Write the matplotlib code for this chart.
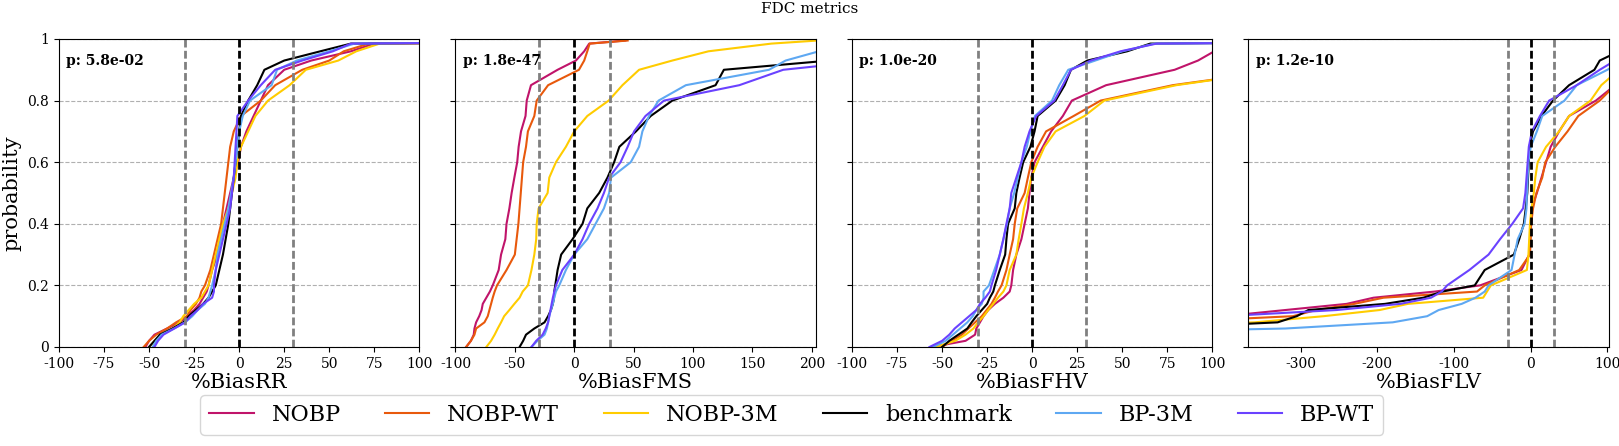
import numpy as np
import matplotlib
matplotlib.use('Agg')
import matplotlib.pyplot as plt

plt.rcParams['font.family'] = 'DejaVu Serif'
plt.rcParams['axes.unicode_minus'] = False

# cumulative probability levels (shared by every curve)
probs = [0, 0.02, 0.04, 0.06, 0.08, 0.10, 0.12, 0.14, 0.16, 0.18, 0.20,
         0.25, 0.30, 0.35, 0.40, 0.45, 0.50, 0.55, 0.60, 0.65, 0.70,
         0.75, 0.80, 0.85, 0.90, 0.93, 0.96, 0.985, 0.995]

models = ['NOBP', 'NOBP-WT', 'NOBP-3M', 'benchmark', 'BP-3M', 'BP-WT']
colors = ['#C0146A', '#E8590C', '#FFCC00', '#000000', '#5EA8F2', '#6A42FF']

# %BiasRR
rr_nobp = [-52, -50, -47, -40, -33, -29, -25, -22, -20, -18, -17, -15, -12, -11, -9, -7,
           -5, -3, -0.5, 1, 4, 8, 12, 16, 25, 40, 62, 75, 300]
rr_nobp_wt = [-53, -50, -46, -40, -35, -29, -27, -24, -22, -21, -19, -16, -14, -12, -10, -9,
              -8, -7, -6, -5, -3, 1, 12, 20, 35, 50, 58, 72, 300]
rr_nobp_3m = [-50, -47, -43, -37, -33, -31, -28, -25, -21, -19, -17, -15, -13, -11, -9, -6,
              -4, -2, -1, 1, 5, 9, 16, 28, 37, 55, 65, 78, 300]
rr_bench = [-50, -47, -44, -37, -31, -28, -24, -20, -17, -15, -13, -11, -9, -7.5, -6, -5,
            -4, -3, -2, -1, 0, 1, 5, 10, 14, 25, 45, 62, 300]
rr_bp_3m = [-48, -46, -43, -36, -30, -26, -23, -19, -17, -16, -15, -13, -12, -10, -8, -6,
            -4.5, -3, -2, -1, 0, 2, 6, 18, 21, 32, 50, 64, 300]
rr_bp_wt = [-47, -45, -42, -36, -30, -27, -23, -20, -15, -14, -14, -13, -11, -9, -7, -5,
            -4, -3, -2.5, -2, -1.5, -1, 5, 12, 20, 35, 52, 62, 300]

# %BiasFMS
fms_nobp = [-91, -87, -84.6, -84, -82.6, -80, -78, -77, -74, -71, -68.6, -63.6, -61.6, -58,
            -57, -54.6, -52.7, -50.4, -48, -46.8, -44.8, -41, -40, -36.4, -14, 1.4, 8.4, 12.6, 43]
fms_nobp_wt = [-91, -87, -84, -82.6, -75.6, -72.8, -71.4, -70, -68.6, -67, -65, -57, -50, -48.5,
               -47, -46, -45, -44, -43, -40.6, -39, -33.6, -31.6, -22, 4, 8.4, 11, 13, 45]
fms_nobp_3m = [-74, -70, -67, -64.4, -61.6, -59, -54.6, -50.4, -46, -43.4, -39, -36, -33.6, -32,
               -31.6, -30, -22.4, -21, -15.4, -7, 0, 11, 29, 40.6, 54.6, 82.6, 113, 166, 205]
fms_bench = [-46, -43, -40.6, -33.6, -25, -22, -19.6, -18, -17, -16.8, -16, -14, -11, -1.4,
             7, 11, 21, 28, 33.6, 38, 52, 64.4, 82.6, 119, 126, 215, 300, 400, 500]
fms_bp_3m = [-36, -31, -25, -23, -22, -21, -19.6, -18, -16.8, -15.4, -12.6, -7, 0, 11,
             18, 25, 29.4, 31, 47.6, 54.6, 57.4, 63, 71, 94, 164, 178, 206, 280, 400]
fms_bp_wt = [-36, -32, -26.6, -24, -22, -21, -20, -19, -18, -16.8, -15.4, -10, 0, 7,
             12.6, 19.6, 25, 29.4, 39, 45, 50.4, 60, 75.6, 139, 176, 250, 350, 450, 550]

# %BiasFHV
fhv_nobp = [-55.6, -37, -31.7, -31, -29, -27, -24.4, -20.7, -16, -12.5, -11.6, -10.6, -8.8, -6,
            -4.2, -2.4, -1.5, -0.5, 1.3, 5.9, 10.5, 17, 22, 41, 79, 92, 101, 115, 200]
fhv_nobp_wt = [-50, -44.6, -39, -35.4, -31.7, -28, -25.3, -22.6, -20.7, -19, -17, -14.3, -12.5,
               -10.6, -9.7, -8.3, -4.2, -2.4, -0.5, 3, 7.7, 23, 38, 78, 140, 180, 220, 300, 400]
fhv_nobp_3m = [-53.8, -42.7, -37, -32.6, -30, -27, -24.4, -21.6, -19, -16, -14.3, -12.5, -8.8,
               -7.5, -6, -4.6, -2.4, -0.5, 3, 6.8, 13, 29, 40, 80, 140, 180, 220, 300, 400]
fhv_bench = [-50, -46, -41, -36, -33.6, -31, -28, -25, -23.5, -21.6, -20.7, -18, -15, -14.3,
             -13.4, -9.7, -8.8, -7, -5, -1, 1.3, 3, 13, 18, 21.5, 30.6, 52.7, 65.5, 300]
fhv_bp_3m = [-55, -48, -44, -40, -36, -33, -31, -28, -27, -27, -24, -21, -18, -16,
             -14, -12.5, -10, -8, -6, -3, -1, 1.5, 11, 15, 20, 35, 50, 68, 300]
fhv_bp_wt = [-57, -50, -46, -43, -39, -35, -31, -29, -26, -23.5, -22.6, -20, -18, -16,
             -14.3, -12.5, -11.6, -8.8, -6, -4.2, -1.5, 2.2, 12.3, 17, 21.5, 32.5, 49, 69, 300]

# %BiasFLV
flv_nobp = [-900, -800, -700, -600, -500, -400, -320, -240, -205, -125, -66, -12, -2, -1,
            0, 1, 8, 14, 20, 26, 37, 50, 85, 110, 130, 160, 200, 260, 300]
flv_nobp_wt = [-900, -800, -700, -600, -480, -310, -280, -230, -192, -70, -60, -15, -1, 0,
               0.5, 3, 7.4, 15, 19, 32, 48, 62, 90, 110, 135, 160, 200, 260, 300]
flv_nobp_3m = [-900, -800, -700, -600, -360, -270, -197, -160, -62, -57, -52, -5, -3, -2,
               -1, 1, 4, 6, 9, 20, 37, 50, 78, 92, 115, 140, 180, 240, 300]
flv_bench = [-900, -800, -650, -500, -330, -305, -290, -190, -140, -115, -73, -60, -22, -15,
             -9, -6.5, -4.5, -3.5, -2.5, -1.7, 3, 14, 29, 50, 83, 90, 115, 150, 300]
flv_bp_3m = [-1000, -900, -700, -320, -180, -135, -120, -90, -72, -60, -55, -25, -21, -17,
             -8, -5.5, -5, -4, -3, 0, 8, 15, 44, 60, 100, 120, 150, 200, 300]
flv_bp_wt = [-900, -800, -700, -600, -500, -400, -253, -170, -130, -116, -109, -80, -55, -40,
             -24, -10, -7, -5.5, -4, -2.5, 1.5, 12, 24, 60, 90, 110, 140, 180, 300]

metrics = ['%BiasRR', '%BiasFMS', '%BiasFHV', '%BiasFLV']
p_values = ['5.8e-02', '1.8e-47', '1.0e-20', '1.2e-10']
panel_data = [
    [rr_nobp, rr_nobp_wt, rr_nobp_3m, rr_bench, rr_bp_3m, rr_bp_wt],
    [fms_nobp, fms_nobp_wt, fms_nobp_3m, fms_bench, fms_bp_3m, fms_bp_wt],
    [fhv_nobp, fhv_nobp_wt, fhv_nobp_3m, fhv_bench, fhv_bp_3m, fhv_bp_wt],
    [flv_nobp, flv_nobp_wt, flv_nobp_3m, flv_bench, flv_bp_3m, flv_bp_wt],
]
xlims = [(-100, 100), (-100, 203.5), (-100, 100), (-368, 102)]
xticks = [np.arange(-100, 101, 25), np.arange(-100, 201, 50),
          np.arange(-100, 101, 25), np.arange(-300, 101, 100)]

fig, axes = plt.subplots(1, 4, figsize=(16.19, 4.46), dpi=100, sharey=True)
fig.subplots_adjust(left=0.0364, right=0.9938, top=0.9126, bottom=0.222, wspace=0.1)

for k, ax in enumerate(axes):
    for series, name, col in zip(panel_data[k], models, colors):
        ax.plot(series, probs, color=col, lw=1.5, label=name)
    ax.axvline(-30, color='gray', ls=(0, (2.8, 1.2)), lw=2)
    ax.axvline(30, color='gray', ls=(0, (2.8, 1.2)), lw=2)
    ax.axvline(0, color='black', ls=(0, (2.8, 1.2)), lw=2)
    ax.grid(axis='y', ls='--', color='#b0b0b0', lw=0.8)
    ax.set_xlim(xlims[k])
    ax.set_ylim(0, 1)
    ax.set_xticks(xticks[k])
    ax.set_xticklabels([str(int(v)) for v in xticks[k]], fontsize=10)
    ax.set_xlabel(metrics[k], fontsize=15, labelpad=2)
    ax.text(0.02, 0.93, 'p: ' + p_values[k], transform=ax.transAxes,
            fontsize=10, fontweight='bold', va='center', ha='left')

axes[0].set_yticks([0, 0.2, 0.4, 0.6, 0.8, 1])
axes[0].set_yticklabels(['0', '0.2', '0.4', '0.6', '0.8', '1'], fontsize=10)
axes[0].set_ylabel('probability', fontsize=15, labelpad=4)

fig.suptitle('FDC metrics', fontsize=11, y=0.995, va='top')

handles, labels = axes[0].get_legend_handles_labels()
fig.legend(handles, labels, loc='lower center', bbox_to_anchor=(0.489, 0.0),
           ncol=6, fontsize=16)

plt.savefig('out.png', dpi=100)
